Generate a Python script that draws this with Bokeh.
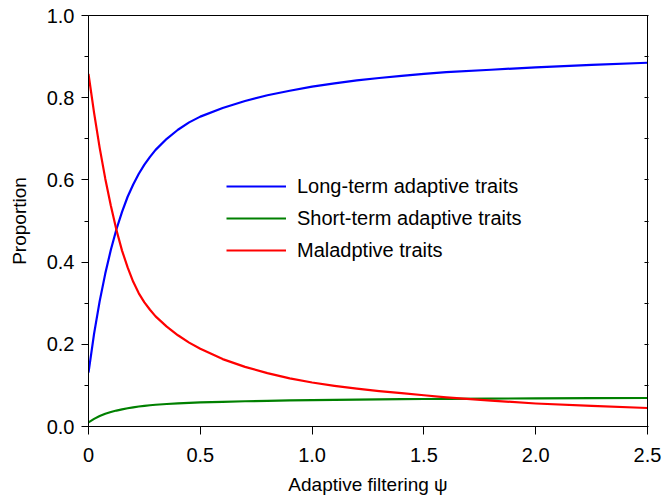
from bokeh.plotting import figure
from bokeh.models import FixedTicker, LinearAxis, Range1d, Legend, LegendItem, CustomJSTickFormatter
from bokeh.embed import file_html
from bokeh.resources import INLINE

# ---- data ----
psi = [0, 0.025, 0.05, 0.075, 0.1, 0.125, 0.15, 0.175, 0.2, 0.225, 0.25, 0.275, 0.3,
       0.35, 0.4, 0.45, 0.5, 0.6, 0.7, 0.8, 0.9, 1.0, 1.1, 1.2, 1.3, 1.4, 1.5, 1.6,
       1.8, 2.0, 2.25, 2.5]
long_term = [0.131, 0.226, 0.305, 0.372, 0.430, 0.480, 0.522, 0.559, 0.589, 0.615,
             0.637, 0.656, 0.673, 0.700, 0.722, 0.740, 0.754, 0.775, 0.792, 0.806,
             0.817, 0.827, 0.835, 0.842, 0.848, 0.853, 0.858, 0.862, 0.868, 0.874,
             0.880, 0.885]
short_term = [0.0100, 0.0185, 0.0255, 0.0310, 0.0353, 0.0388, 0.0418, 0.0444, 0.0467, 0.0487,
              0.0503, 0.0517, 0.0529, 0.0548, 0.0563, 0.0575, 0.0585, 0.0601, 0.0614, 0.0625,
              0.0634, 0.0642, 0.0649, 0.0655, 0.0660, 0.0665, 0.0669, 0.0673, 0.0679, 0.0684,
              0.0689, 0.0693]
maladaptive = [0.858, 0.763, 0.678, 0.603, 0.537, 0.478, 0.428, 0.387, 0.352, 0.324,
               0.302, 0.284, 0.268, 0.243, 0.222, 0.204, 0.189, 0.164, 0.145, 0.130,
               0.117, 0.107, 0.099, 0.092, 0.086, 0.081, 0.076, 0.071, 0.063, 0.056,
               0.050, 0.045]

x_ticks = [0, 0.5, 1.0, 1.5, 2.0, 2.5]
y_ticks = [0, 0.2, 0.4, 0.6, 0.8, 1.0]
y_minor = [0.1, 0.3, 0.5, 0.7, 0.9]
right_ticks = [0, 0.1, 0.2, 0.3, 0.4, 0.5, 0.6, 0.7, 0.8, 0.9, 1.0]
series_names = ["Long-term adaptive traits", "Short-term adaptive traits", "Maladptive traits"]
colors = ["#0000FF", "#008000", "#FF0000"]

FONT = "Liberation Sans"

p = figure(width=665, height=498, output_backend="svg", toolbar_location=None,
           x_range=Range1d(0, 2.5), y_range=Range1d(0, 1.0),
           min_border_left=88, min_border_right=18, min_border_top=15, min_border_bottom=72)
p.grid.visible = False
p.outline_line_color = "black"
p.outline_line_width = 1
p.background_fill_color = "white"
p.border_fill_color = "white"

renderers = []
for ys, c in zip([long_term, short_term, maladaptive], colors):
    r = p.line(psi, ys, line_color=c, line_width=2.2, line_join="round")
    renderers.append(r)

# x axis
xa = p.xaxis[0]
xa.ticker = FixedTicker(ticks=x_ticks, minor_ticks=[])
xa.formatter = CustomJSTickFormatter(code="return tick == 0 ? '0' : tick.toFixed(1);")
xa.major_tick_out = 8
xa.major_tick_in = 0
xa.minor_tick_out = 0
xa.minor_tick_in = 0
xa.axis_line_color = "black"
xa.major_tick_line_color = "black"
xa.major_label_text_font = FONT
xa.major_label_text_font_size = "20px"
xa.major_label_text_color = "black"
xa.major_label_standoff = 13
xa.axis_label = "Adaptive filtering \u03c8"
xa.axis_label_text_font = FONT
xa.axis_label_text_font_size = "19px"
xa.axis_label_text_font_style = "normal"
xa.axis_label_text_color = "black"
xa.axis_label_standoff = 9

# y axis
ya = p.yaxis[0]
ya.ticker = FixedTicker(ticks=y_ticks, minor_ticks=y_minor)
ya.formatter = CustomJSTickFormatter(code="return tick.toFixed(1);")
ya.major_tick_out = 7
ya.major_tick_in = 0
ya.minor_tick_out = 4
ya.minor_tick_in = 0
ya.axis_line_color = "black"
ya.major_tick_line_color = "black"
ya.minor_tick_line_color = "black"
ya.major_label_text_font = FONT
ya.major_label_text_font_size = "20px"
ya.major_label_text_color = "black"
ya.major_label_standoff = 7
ya.axis_label = "Proportion"
ya.axis_label_text_font = FONT
ya.axis_label_text_font_size = "19px"
ya.axis_label_text_font_style = "normal"
ya.axis_label_text_color = "black"
ya.axis_label_standoff = 14

# right axis with small inward ticks
ra = LinearAxis(ticker=FixedTicker(ticks=right_ticks, minor_ticks=[]),
                formatter=CustomJSTickFormatter(code="return '';"))
ra.major_tick_in = 3
ra.major_tick_out = 1
ra.minor_tick_in = 0
ra.minor_tick_out = 0
ra.axis_line_color = "black"
ra.major_tick_line_color = "black"
ra.major_label_text_font_size = "1px"
ra.major_label_standoff = 0
p.add_layout(ra, "right")

legend = Legend(items=[LegendItem(label=n, renderers=[r]) for n, r in zip(series_names, renderers)],
                location=(138, 164))
legend.border_line_color = None
legend.background_fill_alpha = 0
legend.padding = 0
legend.margin = 0
legend.spacing = 8
legend.glyph_width = 60
legend.glyph_height = 24
legend.label_height = 24
legend.label_standoff = 11
legend.label_text_font = FONT
legend.label_text_font_size = "20px"
legend.label_text_color = "black"
p.add_layout(legend, "center")

open("out.html", "w").write(file_html(p, INLINE))
